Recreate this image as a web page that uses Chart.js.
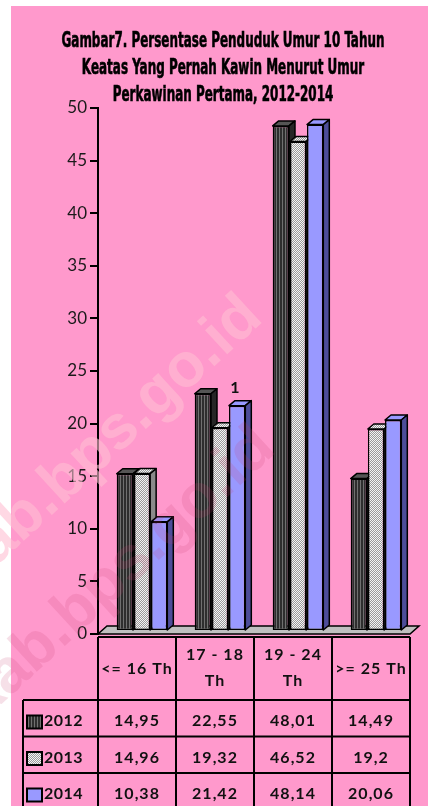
<!DOCTYPE html>
<html>
<head>
<meta charset="utf-8">
<title>Umur Perkawinan Pertama 2012-2014</title>
<script src="https://cdn.jsdelivr.net/npm/chart.js@4.4.1/dist/chart.umd.min.js"></script>
<style>
  html, body { margin: 0; padding: 0; background: #ffffff; }
  canvas { display: block; }
</style>
</head>
<body>
<canvas id="chart" width="428" height="806"></canvas>
<script>
// Kelompok umur perkawinan pertama (kepala tabel data)
const categories = [['<= 16 Th'], ['17 - 18', 'Th'], ['19 - 24', 'Th'], ['>= 25 Th']];
const seriesNames = ['2012', '2013', '2014'];
const values2012 = [14.95, 22.55, 48.01, 14.49];
const values2013 = [14.96, 19.32, 46.52, 19.2];
const values2014 = [10.38, 21.42, 48.14, 20.06];
const yMax = 50;
const yStep = 5;
const titleLines = [
  'Gambar7. Persentase Penduduk Umur 10 Tahun',
  'Keatas Yang Pernah Kawin Menurut Umur',
  'Perkawinan Pertama, 2012-2014'
];
const strayLabel = { category: 1, value: 23.4, text: '1' };
const watermarkText = 'kab.bps.go.id';

const PINK = '#ff99cc';
const canvas = document.getElementById('chart');
const ctx0 = canvas.getContext('2d');

function makePattern(w, h, paint) {
  const c = document.createElement('canvas');
  c.width = w; c.height = h;
  paint(c.getContext('2d'));
  return ctx0.createPattern(c, 'repeat');
}
// vertical pinstripes for 2012, speckled grey for 2013
const stripeFill = makePattern(3, 1, g => {
  g.fillStyle = '#2e2e2e'; g.fillRect(0, 0, 3, 1);
  g.fillStyle = '#707070'; g.fillRect(1, 0, 1, 1);
});
const dotFill = makePattern(2, 2, g => {
  g.fillStyle = '#f4f4f4'; g.fillRect(0, 0, 2, 2);
  g.fillStyle = '#9a9a9a'; g.fillRect(1, 0, 1, 1); g.fillRect(0, 1, 1, 1);
});

const frontFills = [stripeFill, dotFill, '#9999ff'];
const topFills = ['#555555', dotFill, '#9999ff'];
const sideFills = ['#262626', '#8a8a8a', '#4d4d99'];

// depth of the 3-D boxes and of the floor
const DEPTH_X = 6, DEPTH_Y = 5;
const FLOOR_X = 9, FLOOR_Y = 8;
const SHIFT_X = 5, SHIFT_Y = -3;

const fmt = v => String(v).replace('.', ',');

const decor = {
  id: 'decor',
  beforeDraw(chart) {
    const { ctx } = chart;
    ctx.save();
    ctx.fillStyle = PINK;
    ctx.fillRect(11, 6, chart.width - 11, chart.height - 6);
    // title, heavy condensed lettering
    ctx.fillStyle = '#000';
    ctx.font = 'bold 21px "DejaVu Sans Condensed", "DejaVu Sans", sans-serif';
    ctx.textAlign = 'center';
    ctx.textBaseline = 'alphabetic';
    const sx = 323 / ctx.measureText(titleLines[0]).width;
    const baselines = [47, 74, 101];
    titleLines.forEach((t, i) => {
      ctx.save();
      ctx.translate(223, baselines[i]);
      ctx.scale(sx, 1);
      ctx.lineWidth = 0.6;
      ctx.strokeStyle = '#000';
      ctx.strokeText(t, 0, 0);
      ctx.fillText(t, 0, 0);
      ctx.restore();
    });
    ctx.restore();
  },
  beforeDatasetsDraw(chart) {
    const { ctx, chartArea: a } = chart;
    ctx.save();
    // floor
    ctx.beginPath();
    ctx.moveTo(a.left, a.bottom);
    ctx.lineTo(a.right, a.bottom);
    ctx.lineTo(a.right + FLOOR_X, a.bottom - FLOOR_Y);
    ctx.lineTo(a.left + FLOOR_X, a.bottom - FLOOR_Y);
    ctx.closePath();
    ctx.fillStyle = '#c0c0c0';
    ctx.fill();
    ctx.lineWidth = 1.5;
    ctx.strokeStyle = '#000';
    ctx.stroke();

    ctx.translate(SHIFT_X, SHIFT_Y);
    ctx.lineJoin = 'round';
    chart.data.datasets.forEach((ds, di) => {
      const meta = chart.getDatasetMeta(di);
      meta.data.forEach(el => {
        el.draw(ctx);
        const { x, y, base, width } = el.getProps(['x', 'y', 'base', 'width'], true);
        const l = x - width / 2, r = x + width / 2, t = Math.min(y, base);
        ctx.lineWidth = 1.5;
        ctx.strokeStyle = '#000';
        // top face
        ctx.beginPath();
        ctx.moveTo(l, t);
        ctx.lineTo(l + DEPTH_X, t - DEPTH_Y);
        ctx.lineTo(r + DEPTH_X, t - DEPTH_Y);
        ctx.lineTo(r, t);
        ctx.closePath();
        ctx.fillStyle = topFills[di];
        ctx.fill();
        ctx.stroke();
        // side face
        ctx.beginPath();
        ctx.moveTo(r, t);
        ctx.lineTo(r + DEPTH_X, t - DEPTH_Y);
        ctx.lineTo(r + DEPTH_X, base - DEPTH_Y);
        ctx.lineTo(r, base);
        ctx.closePath();
        ctx.fillStyle = sideFills[di];
        ctx.fill();
        ctx.stroke();
      });
    });
    ctx.restore();
    return false;
  },
  afterDraw(chart) {
    const { ctx, chartArea: a, scales: { x, y } } = chart;
    const colW = (a.right - a.left) / categories.length;
    const headTop = a.bottom + 3;
    const headBottom = headTop + 63;
    const rowH = 36.5;
    const labelLeft = 23;
    const bottom = chart.height + 2;
    const series = [values2012, values2013, values2014];

    ctx.save();
    // stray label above the 17-18 group
    ctx.fillStyle = '#111';
    ctx.font = 'bold 16px Lato, sans-serif';
    ctx.textAlign = 'center';
    ctx.textBaseline = 'middle';
    ctx.fillText(strayLabel.text, x.getPixelForValue(strayLabel.category) + 20, y.getPixelForValue(strayLabel.value));

    // data table
    ctx.strokeStyle = '#000';
    ctx.lineWidth = 2;
    ctx.beginPath();
    ctx.moveTo(a.left, headTop); ctx.lineTo(a.right, headTop);
    for (let r = 0; r < 3; r++) {
      const yy = headBottom + r * rowH;
      ctx.moveTo(labelLeft, yy); ctx.lineTo(a.right, yy);
    }
    for (let i = 0; i <= categories.length; i++) {
      const xx = a.left + i * colW;
      ctx.moveTo(xx, headTop); ctx.lineTo(xx, bottom);
    }
    ctx.moveTo(labelLeft, headBottom); ctx.lineTo(labelLeft, bottom);
    ctx.stroke();

    ctx.fillStyle = '#111';
    ctx.font = 'bold 16px Lato, sans-serif';
    ctx.letterSpacing = '1px';
    categories.forEach((lines, i) => {
      const cx = x.getPixelForValue(i);
      if (lines.length === 1) {
        ctx.fillText(lines[0], cx, headTop + 32);
      } else {
        ctx.fillText(lines[0], cx, headTop + 18);
        ctx.fillText(lines[1], cx, headTop + 44);
      }
    });

    series.forEach((vals, si) => {
      const rowTop = headBottom + si * rowH;
      // legend key
      ctx.fillStyle = frontFills[si];
      ctx.fillRect(27, rowTop + 15.5, 15, 13);
      ctx.lineWidth = 2;
      ctx.strokeRect(27, rowTop + 15.5, 15, 13);
      ctx.fillStyle = '#111';
      ctx.textAlign = 'left';
      ctx.letterSpacing = '0.5px';
      ctx.fillText(seriesNames[si], 44, rowTop + 21);
      ctx.textAlign = 'center';
      ctx.letterSpacing = '1px';
      vals.forEach((v, i) => {
        ctx.fillText(fmt(v), x.getPixelForValue(i), rowTop + 21);
      });
    });
    ctx.letterSpacing = '0px';

    // site watermarks
    ctx.font = 'bold 62px "Liberation Sans", Arial, sans-serif';
    ctx.textAlign = 'left';
    ctx.textBaseline = 'alphabetic';
    const ang = -42.5 * Math.PI / 180;
    ctx.save();
    ctx.translate(-30, 590);
    ctx.rotate(ang);
    ctx.fillStyle = 'rgba(255,190,210,0.6)';
    ctx.fillText(watermarkText, 0, 0);
    ctx.restore();
    ctx.save();
    ctx.translate(-17, 721);
    ctx.rotate(ang);
    ctx.fillStyle = 'rgba(200,60,110,0.16)';
    ctx.fillText(watermarkText, 0, 0);
    ctx.restore();
    ctx.restore();
  }
};

function build() {
  new Chart(canvas, {
    type: 'bar',
    data: {
      labels: categories,
      datasets: seriesNames.map((name, i) => ({
        label: name,
        data: [values2012, values2013, values2014][i],
        backgroundColor: frontFills[i],
        borderColor: '#000',
        borderWidth: 1.5,
        borderSkipped: false,
        categoryPercentage: 0.66,
        barPercentage: 0.95
      }))
    },
    options: {
      responsive: false,
      animation: false,
      devicePixelRatio: 1,
      layout: { padding: { top: 108, right: 18, bottom: 172, left: 0 } },
      plugins: {
        legend: { display: false },
        tooltip: { enabled: false },
        title: { display: false }
      },
      scales: {
        x: { display: false },
        y: {
          min: 0,
          max: yMax,
          ticks: { stepSize: yStep, padding: 3, color: '#1a1a1a', font: { family: 'Lato', size: 17 } },
          grid: { drawOnChartArea: false, drawTicks: true, tickLength: 8, color: '#000', lineWidth: 2 },
          border: { display: true, color: '#000', width: 2 },
          afterFit(scale) { scale.width = 98; }
        }
      }
    },
    plugins: [decor]
  });
}

Promise.all([
  document.fonts.load('17px Lato'),
  document.fonts.load('bold 16px Lato'),
  document.fonts.load('bold 21px "DejaVu Sans Condensed"'),
  document.fonts.load('bold 62px "Liberation Sans"')
]).then(build, build);
</script>
</body>
</html>
